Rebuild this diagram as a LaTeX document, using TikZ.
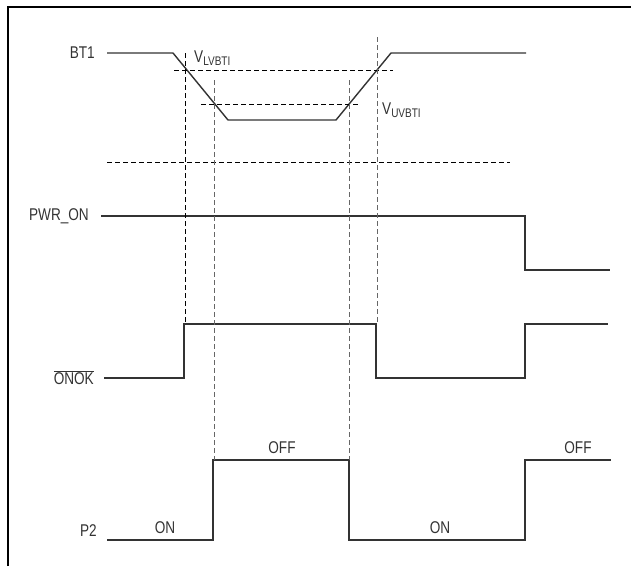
\documentclass[tikz,border=0pt]{standalone}
\usepackage{fontspec}
\setmainfont{Liberation Sans}[FakeStretch=0.8]
\newcommand{\vsub}[2]{#1\raisebox{-0.35ex}{\fontsize{12.5pt}{13pt}\selectfont #2}}
\begin{document}
\begin{tikzpicture}[x=1pt,y=-1pt,
  trace/.style={draw=black!80,line width=1.4pt},
  guide/.style={draw=black,line width=0.8pt,dash pattern=on 5pt off 3pt},
  guidegray/.style={guide,draw=black!60},
  lbl/.style={font=\fontsize{17pt}{19pt}\selectfont,text=black!80,inner sep=1pt}]
\useasboundingbox (0,0) rectangle (631,566);
\draw[line width=1.5pt] (8,566) -- (8,7) -- (631,7);

\node[lbl,anchor=east] (bt1) at (96,53) {BT1};
\node[lbl,anchor=east] (pwr) at (90,216) {PWR\_ON};
\node[lbl,anchor=east] (onok) at (95,378) {$\overline{\hbox{ONOK}}$};
\node[lbl,anchor=east] (p2) at (98,531) {P2};
\node[lbl,anchor=west] (vl) at (193,58) {\vsub{V}{LVBTI}};
\node[lbl,anchor=west] (vu) at (381,110) {\vsub{V}{UVBTI}};

\node[lbl] (on1) at (165,528) {ON};
\node[lbl] (off1) at (282,448) {OFF};
\node[lbl] (on2) at (440,528) {ON};
\node[lbl] (off2) at (578,448) {OFF};

% signals
\path[trace] (107,53) -- (173,53) -- (228,120) -- (336,120) -- (391,53) -- (526,53);
\path[trace] (101,216) -- (525,216) -- (525,270) -- (610,270);
\path[trace] (104,378) -- (184,378) -- (184,324) -- (376,324) -- (376,378)
  -- (525,378) -- (525,324) -- (608,324);
\path[trace] (107,540) -- (213,540) -- (213,460) -- (349,460) -- (349,540)
  -- (525,540) -- (525,460) -- (611,460);

% thresholds
\path[guide] (174,70) -- (393,70);
\path[guide] (201,104) -- (360,104);
\path[guide] (107,162) -- (510,162);

% crossings
\path[guide] (185,53) -- (185,324);
\path[guidegray] (214,80) -- (214,460);
\path[guidegray] (349,80) -- (349,460);
\path[guidegray] (377,37) -- (377,324);
\end{tikzpicture}
\end{document}
